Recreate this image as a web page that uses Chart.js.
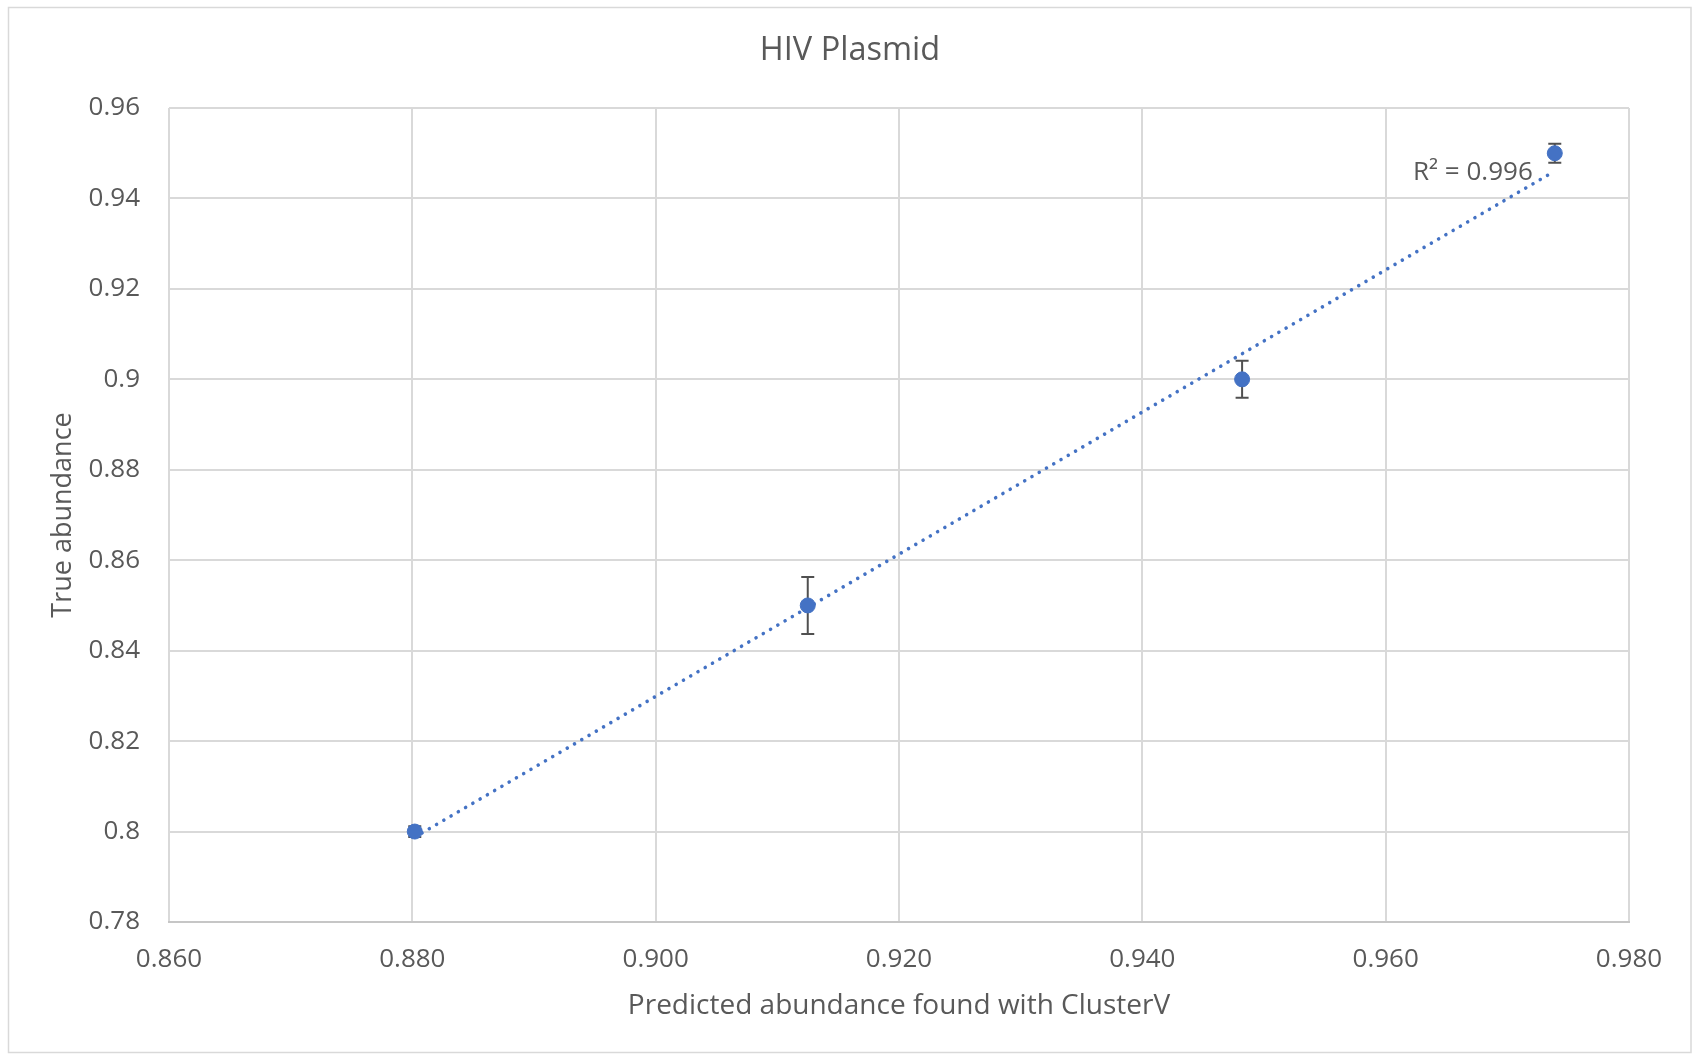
<!DOCTYPE html>
<html>
<head>
<meta charset="utf-8">
<script src="https://cdn.jsdelivr.net/npm/chart.js@4/dist/chart.umd.min.js"></script>
<style>
  html, body { margin: 0; padding: 0; background: #ffffff; }
  #wrap { width: 1692px; height: 1054px; }
</style>
</head>
<body>
<div id="wrap"><canvas id="c" width="1692" height="1054"></canvas></div>
<script>
// ---- data ----
const chartTitle = 'HIV Plasmid';
const xAxisTitle = 'Predicted abundance found with ClusterV';
const yAxisTitle = 'True abundance';
const predicted = [0.8802, 0.9125, 0.9482, 0.9739];   // x values
const trueAbund = [0.80, 0.85, 0.90, 0.95];           // y values
const yErrors   = [0.0012, 0.0063, 0.0041, 0.0021];   // +/- error
const r2Label = 'R\u00B2 = 0.996';
const xTickValues = [0.86, 0.88, 0.90, 0.92, 0.94, 0.96, 0.98];
const xTickLabels = ['0.860', '0.880', '0.900', '0.920', '0.940', '0.960', '0.980'];
const yTickValues = [0.78, 0.80, 0.82, 0.84, 0.86, 0.88, 0.90, 0.92, 0.94, 0.96];
const yTickLabels = ['0.78', '0.8', '0.82', '0.84', '0.86', '0.88', '0.9', '0.92', '0.94', '0.96'];

// ---- linear least-squares trendline from the data ----
const n = predicted.length;
const mx = predicted.reduce((a, b) => a + b, 0) / n;
const my = trueAbund.reduce((a, b) => a + b, 0) / n;
let sxy = 0, sxx = 0;
for (let i = 0; i < n; i++) { sxy += (predicted[i] - mx) * (trueAbund[i] - my); sxx += (predicted[i] - mx) ** 2; }
const slope = sxy / sxx, intercept = my - slope * mx;
const xMinData = Math.min(...predicted), xMaxData = Math.max(...predicted);
const trendPts = [
  { x: xMinData, y: intercept + slope * xMinData },
  { x: xMaxData, y: intercept + slope * xMaxData }
];

const pointData = predicted.map((x, i) => ({ x, y: trueAbund[i] }));

const BLUE = '#4472C4';
const TEXT = '#595959';
const FONT = "'Open Sans', 'Noto Sans', sans-serif";

const borderPlugin = {
  id: 'outerBorder',
  beforeDraw(chart) {
    const ctx = chart.ctx;
    ctx.save();
    ctx.fillStyle = '#ffffff';
    ctx.fillRect(0, 0, chart.width, chart.height);
    ctx.strokeStyle = '#d9d9d9';
    ctx.lineWidth = 1.5;
    ctx.strokeRect(8.5, 7.5, chart.width - 9.5, chart.height - 9);
    ctx.restore();
  }
};

const errorBarPlugin = {
  id: 'errorBars',
  beforeDatasetDraw(chart, args) {
    if (args.index !== 1) return;
    const ctx = chart.ctx;
    const xs = chart.scales.x, ys = chart.scales.y;
    ctx.save();
    ctx.strokeStyle = '#505050';
    ctx.lineWidth = 2;
    const cap = 6.5;
    for (let i = 0; i < n; i++) {
      const px = xs.getPixelForValue(predicted[i]);
      const pt = ys.getPixelForValue(trueAbund[i] + yErrors[i]);
      const pb = ys.getPixelForValue(trueAbund[i] - yErrors[i]);
      ctx.beginPath();
      ctx.moveTo(px, pt); ctx.lineTo(px, pb);
      ctx.moveTo(px - cap, pt); ctx.lineTo(px + cap, pt);
      ctx.moveTo(px - cap, pb); ctx.lineTo(px + cap, pb);
      ctx.stroke();
    }
    ctx.restore();
  }
};

const r2Plugin = {
  id: 'r2Label',
  afterDatasetsDraw(chart) {
    const ctx = chart.ctx;
    const xs = chart.scales.x, ys = chart.scales.y;
    const end = trendPts[1];
    const px = xs.getPixelForValue(end.x);
    const py = ys.getPixelForValue(end.y);
    ctx.save();
    ctx.font = '26px ' + FONT;
    ctx.fillStyle = TEXT;
    ctx.textAlign = 'right';
    ctx.textBaseline = 'middle';
    ctx.fillText(r2Label, px - 22, py + 2);
    ctx.restore();
  }
};

new Chart(document.getElementById('c'), {
  type: 'scatter',
  data: {
    datasets: [
      {
        label: 'Linear trend',
        type: 'line',
        data: trendPts,
        borderColor: BLUE,
        borderWidth: 3.6,
        borderDash: [0.01, 8.4],
        borderCapStyle: 'round',
        pointRadius: 0,
        fill: false,
        tension: 0,
        order: 2
      },
      {
        label: 'HIV Plasmid',
        data: pointData,
        backgroundColor: BLUE,
        borderColor: BLUE,
        borderWidth: 1,
        pointRadius: 7.5,
        pointHoverRadius: 7.5,
        order: 1
      }
    ]
  },
  options: {
    responsive: false,
    devicePixelRatio: 1,
    animation: false,
    layout: { padding: { top: 8, left: 13, right: 5, bottom: 3 } },
    plugins: {
      legend: { display: false },
      tooltip: { enabled: false },
      title: {
        display: true,
        text: chartTitle,
        color: TEXT,
        font: { family: FONT, size: 32.5, weight: 'normal' },
        padding: { top: 23, bottom: 38 }
      }
    },
    scales: {
      x: {
        type: 'linear',
        min: 0.86, max: 0.98,
        afterBuildTicks: s => { s.ticks = xTickValues.map(v => ({ value: v })); },
        afterFit: s => { s.height = 129; },
        ticks: {
          color: TEXT,
          font: { family: FONT, size: 26 },
          padding: 22,
          maxRotation: 0,
          callback: (v, i) => xTickLabels[i]
        },
        grid: { color: '#d9d9d9', lineWidth: 2, drawTicks: false },
        border: { display: true, color: '#c6c6c6', width: 2 },
        title: {
          display: true,
          text: xAxisTitle,
          color: TEXT,
          font: { family: FONT, size: 28 },
          padding: { top: 0, bottom: 28 }
        }
      },
      y: {
        type: 'linear',
        min: 0.78, max: 0.96,
        afterBuildTicks: s => { s.ticks = yTickValues.map(v => ({ value: v })); },
        afterFit: s => { s.width = 156; },
        ticks: {
          color: TEXT,
          font: { family: FONT, size: 26 },
          padding: 29,
          callback: (v, i) => yTickLabels[i]
        },
        grid: { color: '#d9d9d9', lineWidth: 2, drawTicks: false },
        border: { display: false },
        title: {
          display: true,
          text: yAxisTitle,
          color: TEXT,
          font: { family: FONT, size: 27 },
          padding: { top: 34, bottom: 0 }
        }
      },
      yRightSpace: {
        type: 'linear',
        position: 'right',
        display: true,
        min: 0, max: 1,
        afterFit: s => { s.width = 58; },
        ticks: { display: false },
        grid: { display: false, drawTicks: false },
        border: { display: false },
        title: { display: false }
      }
    }
  },
  plugins: [borderPlugin, errorBarPlugin, r2Plugin]
});
</script>
</body>
</html>
